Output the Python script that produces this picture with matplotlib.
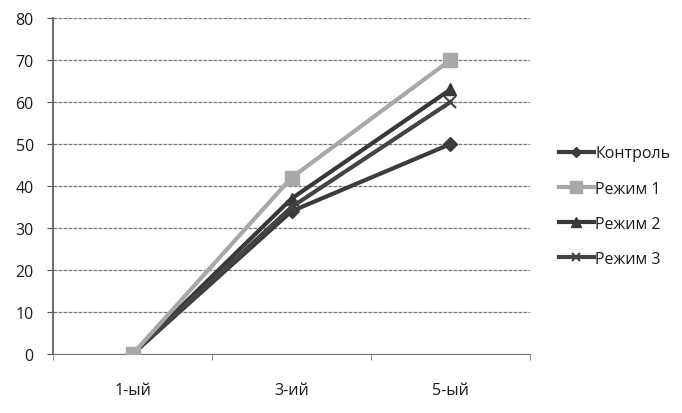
import numpy as np
import matplotlib.pyplot as plt

categories = ["1-ый", "3-ий", "5-ый"]
kontrol = [0, 34, 50]
rezhim1 = [0, 42, 70]
rezhim2 = [0, 37, 63]
rezhim3 = [0, 35, 60]

plt.rcParams['font.family'] = ['Open Sans', 'DejaVu Sans']

fig = plt.figure(figsize=(6.82, 4.14), dpi=100)
ax = fig.add_axes([0.078, 0.1425, 0.699, 0.8115])

x = np.arange(len(categories))
ax.plot(x, kontrol, color='#3c3c3c', lw=3, marker='D', ms=7, label='Контроль', zorder=3)
ax.plot(x, rezhim1, color='#a8a8a8', lw=3, marker='s', ms=10, label='Режим 1', zorder=4)
ax.plot(x, rezhim2, color='#383838', lw=3, marker='^', ms=9, label='Режим 2', zorder=3)
ax.plot(x, rezhim3, color='#444444', lw=3, marker='x', ms=8, mew=1.5, label='Режим 3', zorder=3)

ax.set_xlim(-0.5, 2.5)
ax.set_ylim(0, 80)
ax.set_yticks(range(0, 81, 10))
ax.set_xticks(x)
ax.set_xticklabels(categories)
ax.set_xticks([-0.5, 0.5, 1.5, 2.5], minor=True)
ax.tick_params(axis='x', which='major', length=0, pad=20, labelsize=11.5, colors='#1a1a1a')
ax.tick_params(axis='x', which='minor', length=4, direction='out', color='#777777')
ax.tick_params(axis='y', length=4, pad=10, labelsize=11.5, colors='#1a1a1a', color='#555555')

ax.grid(axis='y', color='#777777', linestyle=(0, (3, 1)), lw=0.9)
for s in ['top', 'right']:
    ax.spines[s].set_visible(False)
ax.spines['left'].set_color('#555555')
ax.spines['left'].set_linewidth(1.2)
ax.spines['bottom'].set_color('#777777')
ax.spines['bottom'].set_linestyle((0, (3, 1)))

leg = ax.legend(loc='center left', bbox_to_anchor=(1.03, 0.44), frameon=False,
                fontsize=11.5, handlelength=2.2, handletextpad=0.1, labelspacing=1.2,
                markerscale=0.8)
for t in leg.get_texts():
    t.set_color('#1a1a1a')

plt.savefig('out.png', dpi=100)
